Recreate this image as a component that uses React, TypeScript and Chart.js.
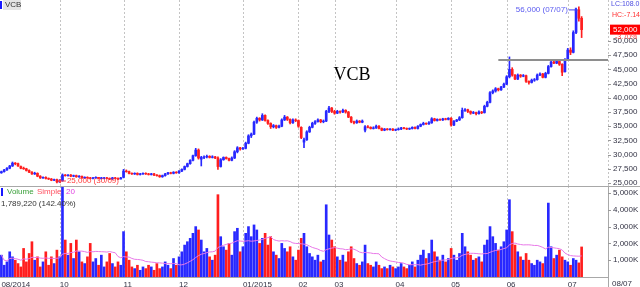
import React, { useEffect, useRef } from 'react';
import { Chart, registerables } from 'chart.js';
Chart.register(...registerables);

// ---------- DATA (prices in thousand VND, volumes in thousand shares) ----------
const symbol = 'VCB';
const firstDate = '2014-08-29';
const lastDate = '2015-07-08';
const holidays = ['2014-09-01', '2014-09-02', '2015-01-01', '2015-01-02', '2015-02-16', '2015-02-17', '2015-02-18', '2015-02-19', '2015-02-20', '2015-02-23', '2015-02-24', '2015-04-28', '2015-04-30', '2015-05-01'];

const opens = [
  26.8,
  27.0, 27.3, 27.6, 28.0, 28.5, 28.4, 27.9, 27.6, 27.5, 27.2, 26.9, 26.6, 26.7, 26.2, 25.9, 26.0, 25.8, 25.7, 25.5, 25.6,
  25.2, 25.4, 26.4, 26.3, 26.4, 26.2, 26.3, 26.1, 26.2, 25.9, 26.0, 25.9, 25.8, 25.9, 26.0, 25.8, 25.8, 25.9, 25.8, 25.7, 25.9, 25.8, 25.7,
  26.0, 27.1, 27.0, 26.7, 26.6, 26.7, 26.5, 26.6, 26.7, 26.6, 26.5, 26.6, 26.4, 26.3, 26.1, 26.3, 26.6, 26.8, 26.7, 26.9,
  26.8, 27.1, 27.4, 27.9, 28.4, 29.0, 29.8, 30.8, 29.2, 29.5, 29.6, 29.7, 29.5, 29.6, 29.4, 27.9, 29.1, 29.5, 29.3, 29.0, 29.4, 30.5, 31.2,
  31.0, 31.1, 32.0, 33.3, 33.6, 35.7, 36.4, 36.1, 36.9, 36.0, 35.5, 34.9, 35.1, 34.8, 35.0, 36.1, 36.6, 36.2, 35.6, 36.1,
  36.0, 34.8, 32.2, 32.6, 34.0, 34.8, 35.5, 35.8, 36.1, 35.8, 35.9, 37.6, 38.2,
  37.6, 37.3, 37.6, 37.5, 37.8, 37.5, 36.6, 35.8, 35.6, 35.9, 35.7, 34.3, 34.9, 34.8, 34.6, 34.7, 35.0, 34.6, 34.3, 34.5, 34.4, 34.5,
  34.3, 34.4, 34.5, 34.7, 34.6, 34.5, 34.6, 34.8, 34.6, 35.0, 35.3, 35.5, 35.4, 35.6, 36.3, 36.0, 36.2, 36.1, 36.3, 36.2,
  36.4, 35.2, 35.9, 36.1, 36.5, 37.8, 37.9, 37.6, 37.3, 37.4, 37.2, 37.5, 37.4, 38.5, 39.2, 40.9, 41.2, 41.6, 41.4, 41.9,
  42.4, 43.7, 45.0, 44.0, 43.3, 44.0, 43.8, 43.9, 42.9, 42.7, 43.1, 43.2, 44.0, 44.2, 43.6, 44.3, 45.5, 46.3, 46.1, 46.4, 45.9, 44.6,
  46.7, 48.4, 48.0, 51.5, 55.5, 54.0,
];
const highs = [
  27.1,
  27.4, 27.7, 28.1, 28.7, 28.6, 28.5, 28.0, 27.8, 27.6, 27.3, 27.0, 26.9, 26.8, 26.3, 26.1, 26.1, 25.9, 25.8, 25.7, 25.7,
  25.6, 26.6, 26.5, 26.5, 26.5, 26.4, 26.4, 26.3, 26.2, 26.1, 26.1, 26.0, 26.0, 26.1, 26.0, 26.0, 26.0, 26.0, 25.9, 26.0, 26.0, 25.9, 26.0,
  27.4, 27.3, 27.1, 26.8, 26.8, 26.8, 26.7, 26.8, 26.8, 26.7, 26.7, 26.7, 26.5, 26.4, 26.4, 26.7, 26.9, 26.9, 27.0, 27.0,
  27.2, 27.5, 28.0, 28.5, 29.1, 29.9, 31.1, 31.0, 29.7, 29.8, 29.9, 29.8, 29.8, 29.7, 29.6, 29.3, 29.6, 29.6, 29.4, 29.6, 30.7, 31.4, 31.3,
  31.3, 32.2, 33.5, 33.8, 35.9, 36.6, 36.5, 37.2, 37.0, 36.1, 35.6, 35.3, 35.2, 35.2, 36.3, 36.9, 36.7, 36.3, 36.3, 36.3,
  36.1, 34.9, 32.9, 34.2, 35.0, 35.7, 36.0, 36.3, 36.2, 36.1, 37.8, 38.5, 38.3,
  37.8, 37.8, 37.7, 38.0, 37.9, 37.6, 36.7, 35.9, 36.1, 36.0, 36.1, 35.1, 35.1, 34.9, 34.9, 35.2, 35.1, 34.7, 34.6, 34.6, 34.6, 34.6,
  34.5, 34.7, 34.8, 34.8, 34.7, 34.7, 34.9, 34.9, 35.1, 35.4, 35.7, 35.6, 35.8, 36.5, 36.4, 36.3, 36.3, 36.4, 36.4, 36.5,
  36.5, 36.0, 36.2, 36.7, 38.2, 38.1, 38.0, 37.7, 37.6, 37.5, 37.7, 37.6, 38.7, 39.4, 41.1, 41.4, 41.8, 41.7, 42.0, 42.6,
  43.9, 47.2, 45.3, 44.1, 44.2, 44.1, 44.1, 44.0, 43.0, 43.3, 43.4, 44.2, 44.4, 44.3, 44.5, 45.7, 46.5, 46.4, 46.6, 46.5, 46.0, 46.9,
  48.7, 48.8, 51.8, 55.8, 56.0, 54.3,
];
const lows = [
  26.7,
  26.9, 27.2, 27.5, 27.9, 28.2, 27.9, 27.5, 27.4, 27.1, 26.8, 26.5, 26.5, 26.1, 25.8, 25.8, 25.7, 25.6, 25.4, 25.4, 25.0,
  25.1, 25.3, 26.2, 26.2, 26.1, 26.1, 26.0, 26.0, 25.8, 25.8, 25.8, 25.7, 25.7, 25.8, 25.7, 25.7, 25.7, 25.7, 25.6, 25.6, 25.7, 25.6, 25.7,
  25.9, 26.9, 26.6, 26.5, 26.5, 26.4, 26.4, 26.5, 26.5, 26.4, 26.4, 26.3, 26.2, 26.0, 26.0, 26.2, 26.5, 26.6, 26.6, 26.7,
  26.7, 27.0, 27.3, 27.8, 28.3, 28.9, 29.7, 29.2, 28.0, 29.3, 29.4, 29.4, 29.4, 29.3, 27.4, 27.8, 29.0, 29.2, 28.9, 28.9, 29.3, 30.3, 30.8,
  30.9, 31.0, 31.9, 33.0, 33.5, 35.5, 35.9, 36.0, 35.9, 35.3, 34.6, 34.7, 34.6, 34.7, 34.9, 36.0, 36.0, 35.4, 35.5, 35.8,
  34.8, 32.8, 31.2, 32.5, 33.9, 34.7, 35.3, 35.7, 35.6, 35.6, 35.8, 37.4, 37.4,
  37.1, 37.2, 37.3, 37.4, 37.3, 36.5, 35.6, 35.4, 35.5, 35.6, 35.6, 34.0, 34.7, 34.5, 34.5, 34.6, 34.5, 34.2, 34.2, 34.3, 34.3, 34.2,
  34.2, 34.3, 34.4, 34.5, 34.4, 34.4, 34.5, 34.5, 34.5, 34.9, 35.2, 35.3, 35.3, 35.5, 35.9, 35.9, 36.0, 36.0, 36.1, 36.1,
  35.0, 35.1, 35.8, 36.0, 36.4, 37.6, 37.4, 37.1, 37.2, 37.0, 37.1, 37.2, 37.3, 38.4, 39.1, 40.7, 41.0, 41.2, 41.3, 41.8,
  42.3, 43.5, 43.8, 43.2, 43.2, 43.6, 43.7, 42.7, 42.4, 42.6, 42.9, 43.1, 43.9, 43.5, 43.5, 44.2, 45.4, 46.0, 46.0, 45.7, 43.9, 44.5,
  46.6, 47.6, 47.9, 51.3, 53.5, 50.6,
];
const closes = [
  27.0,
  27.3, 27.6, 28.0, 28.5, 28.4, 28.0, 27.6, 27.5, 27.2, 26.9, 26.6, 26.7, 26.2, 25.9, 26.0, 25.8, 25.7, 25.5, 25.6, 25.2,
  25.4, 26.4, 26.3, 26.4, 26.2, 26.3, 26.1, 26.2, 25.9, 26.0, 25.9, 25.8, 25.9, 26.0, 25.8, 25.9, 25.9, 25.8, 25.7, 25.9, 25.8, 25.7, 25.9,
  27.1, 27.0, 26.7, 26.6, 26.7, 26.5, 26.6, 26.7, 26.6, 26.5, 26.6, 26.4, 26.3, 26.1, 26.3, 26.6, 26.8, 26.7, 26.9, 26.8,
  27.1, 27.4, 27.9, 28.4, 29.0, 29.8, 30.8, 29.4, 29.5, 29.6, 29.7, 29.5, 29.6, 29.4, 27.9, 29.1, 29.5, 29.3, 29.0, 29.4, 30.5, 31.2, 31.0,
  31.1, 32.0, 33.3, 33.6, 35.7, 36.4, 36.1, 36.9, 36.0, 35.5, 34.9, 35.1, 34.8, 35.0, 36.1, 36.6, 36.2, 35.6, 36.1, 36.0,
  35.0, 33.0, 32.6, 34.0, 34.8, 35.5, 35.8, 36.1, 35.8, 35.9, 37.6, 38.2, 37.6,
  37.3, 37.6, 37.5, 37.8, 37.5, 36.6, 35.8, 35.6, 35.9, 35.7, 35.9, 34.9, 34.8, 34.6, 34.7, 35.0, 34.6, 34.3, 34.5, 34.4, 34.5, 34.3,
  34.4, 34.5, 34.7, 34.6, 34.5, 34.6, 34.8, 34.6, 35.0, 35.3, 35.5, 35.4, 35.6, 36.3, 36.0, 36.2, 36.1, 36.3, 36.2, 36.4,
  35.2, 35.9, 36.1, 36.5, 37.8, 37.9, 37.6, 37.3, 37.4, 37.2, 37.5, 37.4, 38.5, 39.2, 40.9, 41.2, 41.6, 41.4, 41.9, 42.4,
  43.7, 45.0, 44.0, 43.3, 44.0, 43.8, 43.9, 42.9, 42.7, 43.1, 43.2, 44.0, 44.2, 43.6, 44.3, 45.5, 46.3, 46.1, 46.4, 45.9, 44.5, 46.7,
  48.4, 48.0, 51.5, 55.5, 54.0, 52.0,
];
const volumes = [
  1300,
  700, 900, 1500, 1200, 1000, 800, 600, 1700, 900, 1400, 2100, 1000, 1200, 600, 900, 1500, 700, 1200, 800, 1600,
  1200, 5400, 2200, 1300, 2000, 1100, 2200, 1500, 900, 800, 1200, 2000, 900, 1100, 700, 1300, 600, 900, 1400, 800, 600, 900, 700,
  2700, 1500, 1000, 600, 500, 700, 400, 600, 500, 700, 600, 400, 800, 500, 600, 900, 700, 500, 1100, 700,
  1200, 1500, 1900, 2100, 2300, 2600, 3000, 2800, 2200, 1500, 1700, 1200, 1000, 1300, 4900, 2400, 1800, 1600, 2000, 1300, 2700, 2900, 1500,
  1800, 2600, 3000, 2400, 3100, 2800, 2000, 2300, 2600, 1900, 2400, 1500, 1300, 1100, 2000, 1700, 1500, 1800, 1200, 1000,
  1600, 2300, 2600, 1800, 1400, 1200, 1000, 1300, 900, 1000, 4300, 2500, 2200,
  1800, 1200, 1000, 1300, 900, 1500, 1800, 1100, 800, 700, 900, 1900, 800, 700, 600, 900, 700, 500, 600, 500, 700, 600,
  500, 600, 800, 600, 500, 700, 900, 600, 1000, 1300, 1600, 1100, 1400, 2200, 1500, 1200, 1000, 1300, 900, 1100,
  1700, 1300, 1000, 1400, 2600, 1800, 1500, 1300, 1000, 1100, 1200, 900, 1900, 2200, 3000, 2400, 2000, 1600, 1800, 2100,
  2800, 4600, 2700, 1900, 1500, 1200, 1000, 1400, 1000, 800, 700, 1000, 900, 800, 1200, 4400, 1800, 1100, 1300, 1600, 1200, 1000,
  900, 700, 1100, 1000, 840, 1789.22,
];
const priceTicks = [25, 27.5, 30, 32.5, 35, 37.5, 40, 42.5, 45, 47.5, 50];
const volumeTicks = [1000, 2000, 3000, 4000, 5000];
const resistanceLevel = 46.65;
const resistanceFromIndex = 179;
const smaPeriod = 20;
const emptySlots = 9;

// ---------- derived ----------
function tradingDates(): string[] {
  const out: string[] = [];
  const d = new Date(firstDate + 'T00:00:00Z');
  const end = new Date(lastDate + 'T00:00:00Z');
  while (d <= end) {
    const iso = d.toISOString().slice(0, 10);
    const wd = d.getUTCDay();
    if (wd !== 0 && wd !== 6 && !holidays.includes(iso)) out.push(iso);
    d.setUTCDate(d.getUTCDate() + 1);
  }
  return out;
}
const isoDates = tradingDates().slice(0, closes.length);
const dateLabels = isoDates.map((s) => `${s.slice(8, 10)}/${s.slice(5, 7)}/${s.slice(0, 4)}`);
const labels = [...dateLabels, ...Array(emptySlots).fill('')];
const monthStarts: number[] = [];
const monthNames: string[] = [];
isoDates.forEach((s, i) => {
  if (i === 0 || s.slice(5, 7) !== isoDates[i - 1].slice(5, 7)) {
    if (monthStarts.length && i - monthStarts[monthStarts.length - 1] < 6) return; // too close to previous label
    monthStarts.push(i);
    const mm = s.slice(5, 7);
    monthNames.push(i === 0 || mm === '01' ? `${mm}/${s.slice(0, 4)}` : mm);
  }
});

const BLUE = '#2828ff';
const RED = '#ff1e1e';
const candleColors = closes.map((c, i) => (c >= opens[i] ? BLUE : RED));
const sma = volumes.map((_, i) => {
  const from = Math.max(0, i - smaPeriod + 1);
  const w = volumes.slice(from, i + 1);
  return w.reduce((a, b) => a + b, 0) / w.length;
});
const fmtPrice = (v: number) => Math.round(v * 1000).toLocaleString('en-US');
const AXIS_FONT = { family: '"Liberation Sans", Arial, sans-serif', size: 8 };
const TXT = '#333344';
const SMALL = '7px "Liberation Sans", Arial, sans-serif';

const pricePlugin = {
  id: 'priceDeco',
  beforeDatasetsDraw(chart: any) {
    const { ctx, chartArea, scales } = chart;
    const x = scales.x;
    ctx.save();
    ctx.strokeStyle = '#c4c4c4';
    ctx.lineWidth = 1;
    ctx.setLineDash([2, 2]);
    monthStarts.slice(1).forEach((i) => {
      const px = Math.round(x.getPixelForValue(i)) + 0.5;
      ctx.beginPath();
      ctx.moveTo(px, chartArea.top);
      ctx.lineTo(px, chartArea.bottom);
      ctx.stroke();
    });
    const rx = chartArea.right + 0.5;
    ctx.beginPath();
    ctx.moveTo(rx, chartArea.top);
    ctx.lineTo(rx, chartArea.bottom);
    ctx.stroke();
    ctx.restore();
  },
  afterDatasetsDraw(chart: any) {
    const { ctx, chartArea, scales } = chart;
    const x = scales.x;
    const y = scales.y;
    ctx.save();
    // resistance line
    const ly = y.getPixelForValue(resistanceLevel);
    ctx.strokeStyle = '#8e8e8e';
    ctx.lineWidth = 2;
    ctx.beginPath();
    ctx.moveTo(x.getPixelForValue(resistanceFromIndex), ly);
    ctx.lineTo(chartArea.right, ly);
    ctx.stroke();

    // y tick marks
    ctx.strokeStyle = '#999';
    ctx.lineWidth = 1;
    priceTicks.forEach((t) => {
      const py = Math.round(y.getPixelForValue(t)) + 0.5;
      ctx.beginPath();
      ctx.moveTo(chartArea.right, py);
      ctx.lineTo(chartArea.right + 3, py);
      ctx.stroke();
    });

    // high / low annotations
    let hi = 0;
    let lo = 0;
    highs.forEach((h, i) => { if (h > highs[hi]) hi = i; });
    lows.forEach((l, i) => { if (l < lows[lo]) lo = i; });
    ctx.font = '8px "Liberation Sans", Arial, sans-serif';
    ctx.textBaseline = 'middle';
    const hx = x.getPixelForValue(hi);
    const hy = y.getPixelForValue(highs[hi]) + 3;
    ctx.fillStyle = '#5a5af0';
    ctx.strokeStyle = '#3a3af0';
    ctx.textAlign = 'right';
    ctx.fillText(`${fmtPrice(highs[hi])} (${dateLabels[hi].slice(0, 5)})`, hx - 11, hy);
    ctx.beginPath();
    ctx.moveTo(hx - 10, hy);
    ctx.lineTo(hx - 2, hy);
    ctx.stroke();
    ctx.fillStyle = '#3a3af0';
    ctx.beginPath();
    ctx.moveTo(hx - 1, hy);
    ctx.lineTo(hx - 4, hy - 2.5);
    ctx.lineTo(hx - 4, hy + 2.5);
    ctx.closePath();
    ctx.fill();

    const lx = x.getPixelForValue(lo);
    const lyy = y.getPixelForValue(lows[lo]) - 2;
    ctx.fillStyle = '#ff3a3a';
    ctx.strokeStyle = '#ff3a3a';
    ctx.textAlign = 'left';
    ctx.fillText(`${fmtPrice(lows[lo])} (${dateLabels[lo].slice(0, 5)})`, lx + 10, lyy);
    ctx.beginPath();
    ctx.moveTo(lx + 9, lyy);
    ctx.lineTo(lx + 2, lyy);
    ctx.stroke();
    ctx.beginPath();
    ctx.moveTo(lx + 1, lyy);
    ctx.lineTo(lx + 4, lyy - 2.5);
    ctx.lineTo(lx + 4, lyy + 2.5);
    ctx.closePath();
    ctx.fill();

    // title
    ctx.fillStyle = '#000';
    ctx.textAlign = 'center';
    ctx.font = '18px "Liberation Serif", "Times New Roman", serif';
    ctx.fillText(symbol, 352, 75);

    // legend top-left
    ctx.fillStyle = '#1818ff';
    ctx.fillRect(0, 1, 2, 8);
    ctx.fillStyle = '#e4e4e4';
    ctx.fillRect(3, 0, 18, 10);
    ctx.fillStyle = '#333';
    ctx.textAlign = 'left';
    ctx.font = '8px "Liberation Sans", Arial, sans-serif';
    ctx.fillText(symbol, 5, 5);

    // right side info
    const last = closes.length - 1;
    const c = closes[last];
    const minLow = Math.min(...lows);
    const maxHigh = Math.max(...highs);
    const lc = ((c - minLow) / minLow) * 100;
    const hc = ((c - maxHigh) / maxHigh) * 100;
    const chg = ((c - closes[last - 1]) / closes[last - 1]) * 100;
    const ax = chartArea.right + 3;
    ctx.font = SMALL;
    ctx.fillStyle = '#4c4ce0';
    ctx.fillText(`LC:${lc.toFixed(1)}`, ax, 4);
    ctx.fillStyle = '#ff3030';
    ctx.fillText(`HC:${hc.toFixed(2)}`, ax + 1, 15);
    const cy = y.getPixelForValue(c);
    ctx.fillStyle = '#ff0000';
    ctx.fillRect(chartArea.right + 2, cy - 5, 30, 10);
    ctx.font = '8px "Liberation Sans", Arial, sans-serif';
    ctx.fillStyle = '#fff';
    ctx.fillText(fmtPrice(c), ax + 2, cy);
    ctx.font = SMALL;
    ctx.fillStyle = '#ff3030';
    ctx.fillText(`${chg.toFixed(2)}%`, ax + 4, cy + 7);
    ctx.restore();
  },
};

const volumePlugin = {
  id: 'volDeco',
  beforeDatasetsDraw(chart: any) {
    const { ctx, chartArea, scales, width, height } = chart;
    const x = scales.x;
    ctx.save();
    ctx.strokeStyle = '#c4c4c4';
    ctx.lineWidth = 1;
    ctx.setLineDash([2, 2]);
    monthStarts.slice(1).forEach((i) => {
      const px = Math.round(x.getPixelForValue(i)) + 0.5;
      ctx.beginPath();
      ctx.moveTo(px, 0);
      ctx.lineTo(px, chartArea.bottom);
      ctx.stroke();
    });
    ctx.setLineDash([]);
    ctx.strokeStyle = '#a8a8a8';
    ctx.beginPath();
    ctx.moveTo(0, 0.5);
    ctx.lineTo(width, 0.5);
    ctx.moveTo(0, chartArea.bottom + 0.5);
    ctx.lineTo(chartArea.right, chartArea.bottom + 0.5);
    ctx.moveTo(chartArea.right + 0.5, 0);
    ctx.lineTo(chartArea.right + 0.5, height);
    ctx.stroke();
    ctx.strokeStyle = '#999';
    volumeTicks.forEach((t) => {
      const py = Math.round(scales.y.getPixelForValue(t)) + 0.5;
      ctx.beginPath();
      ctx.moveTo(chartArea.right, py);
      ctx.lineTo(chartArea.right + 3, py);
      ctx.stroke();
    });
    ctx.restore();
  },
  afterDraw(chart: any) {
    const { ctx, chartArea } = chart;
    ctx.save();
    ctx.font = '8px "Liberation Sans", Arial, sans-serif';
    ctx.textBaseline = 'middle';
    ctx.textAlign = 'left';
    ctx.fillStyle = '#1818ff';
    ctx.fillRect(1, 2, 2, 8);
    ctx.fillStyle = '#3aa03a';
    ctx.fillText('Volume', 7, 6);
    ctx.fillStyle = '#ff5060';
    ctx.fillText('Simple', 37, 6);
    ctx.fillStyle = '#e040e0';
    ctx.fillText(String(smaPeriod), 66, 6);
    const last = volumes.length - 1;
    const ratio = (volumes[last] / sma[last]) * 100;
    ctx.fillStyle = '#333';
    ctx.fillText(`${Math.round(volumes[last] * 1000).toLocaleString('en-US')} (${ratio.toFixed(2)}%)`, 1, 18);
    ctx.fillStyle = TXT;
    ctx.textBaseline = 'top';
    ctx.fillText(dateLabels[last].slice(0, 5), chartArea.right + 4, chartArea.bottom + 3);
    ctx.restore();
  },
};

const noPad = (s: any) => {
  s.paddingTop = 0;
  s.paddingBottom = 0;
  s.paddingLeft = 0;
  s.paddingRight = 0;
};

export default function App() {
  const priceRef = useRef<HTMLCanvasElement>(null);
  const volRef = useRef<HTMLCanvasElement>(null);

  useEffect(() => {
    document.body.style.margin = '0';
    const priceChart = new Chart(priceRef.current as HTMLCanvasElement, {
      type: 'bar',
      data: {
        labels,
        datasets: [
          {
            label: 'range',
            data: lows.map((l, i) => [l, highs[i]]) as any,
            backgroundColor: candleColors,
            barThickness: 1,
            grouped: false,
          },
          {
            label: 'body',
            data: opens.map((o, i) => [Math.min(o, closes[i]), Math.max(o, closes[i])]) as any,
            backgroundColor: candleColors,
            barThickness: 2,
            grouped: false,
          },
        ],
      },
      options: {
        responsive: false,
        animation: false,
        layout: { padding: 0 },
        plugins: { legend: { display: false }, tooltip: { enabled: false } },
        scales: {
          x: { type: 'category', display: false, offset: true },
          y: {
            position: 'right',
            min: 24.472,
            max: 57.218,
            grid: { display: false, drawTicks: false },
            border: { display: false },
            ticks: {
              font: AXIS_FONT,
              color: TXT,
              padding: 5,
              callback: (v: any) => fmtPrice(Number(v)),
            },
            afterBuildTicks: (s: any) => { s.ticks = priceTicks.map((v) => ({ value: v })); },
            afterFit: (s: any) => { s.width = 32; noPad(s); },
          },
        },
      },
      plugins: [pricePlugin],
    });

    const volChart = new Chart(volRef.current as HTMLCanvasElement, {
      type: 'bar',
      data: {
        labels,
        datasets: [
          {
            type: 'line',
            label: 'SMA',
            data: sma,
            borderColor: '#e878e8',
            borderWidth: 1,
            pointRadius: 0,
            tension: 0,
            order: 0,
          } as any,
          {
            label: 'Volume',
            data: volumes,
            backgroundColor: candleColors,
            barThickness: 2,
            grouped: false,
            order: 1,
          },
        ],
      },
      options: {
        responsive: false,
        animation: false,
        layout: { padding: { top: 1, left: 0, right: 0, bottom: 0 } },
        plugins: { legend: { display: false }, tooltip: { enabled: false } },
        scales: {
          x: {
            type: 'category',
            offset: true,
            grid: { display: false, drawTicks: false },
            border: { display: false },
            ticks: {
              autoSkip: false,
              maxRotation: 0,
              align: 'start',
              padding: 3,
              font: AXIS_FONT,
              color: TXT,
              callback: (v: any) => monthNames[monthStarts.indexOf(Number(v))] ?? '',
            },
            afterBuildTicks: (s: any) => { s.ticks = monthStarts.map((v) => ({ value: v })); },
            afterFit: (s: any) => { s.height = 10; noPad(s); },
          },
          y: {
            position: 'right',
            min: 0,
            max: 5357,
            grid: { display: false, drawTicks: false },
            border: { display: false },
            ticks: {
              font: AXIS_FONT,
              color: TXT,
              padding: 5,
              callback: (v: any) => `${Number(v).toLocaleString('en-US')}K`,
            },
            afterBuildTicks: (s: any) => { s.ticks = volumeTicks.map((v) => ({ value: v })); },
            afterFit: (s: any) => { s.width = 32; noPad(s); },
          },
        },
      },
      plugins: [volumePlugin],
    });

    return () => {
      priceChart.destroy();
      volChart.destroy();
    };
  }, []);

  return (
    <div style={{ position: 'relative', width: 640, height: 287, background: '#fff', overflow: 'hidden' }}>
      <canvas ref={priceRef} width={640} height={186} style={{ position: 'absolute', left: 0, top: 0 }} />
      <canvas ref={volRef} width={640} height={101} style={{ position: 'absolute', left: 0, top: 186 }} />
    </div>
  );
}
